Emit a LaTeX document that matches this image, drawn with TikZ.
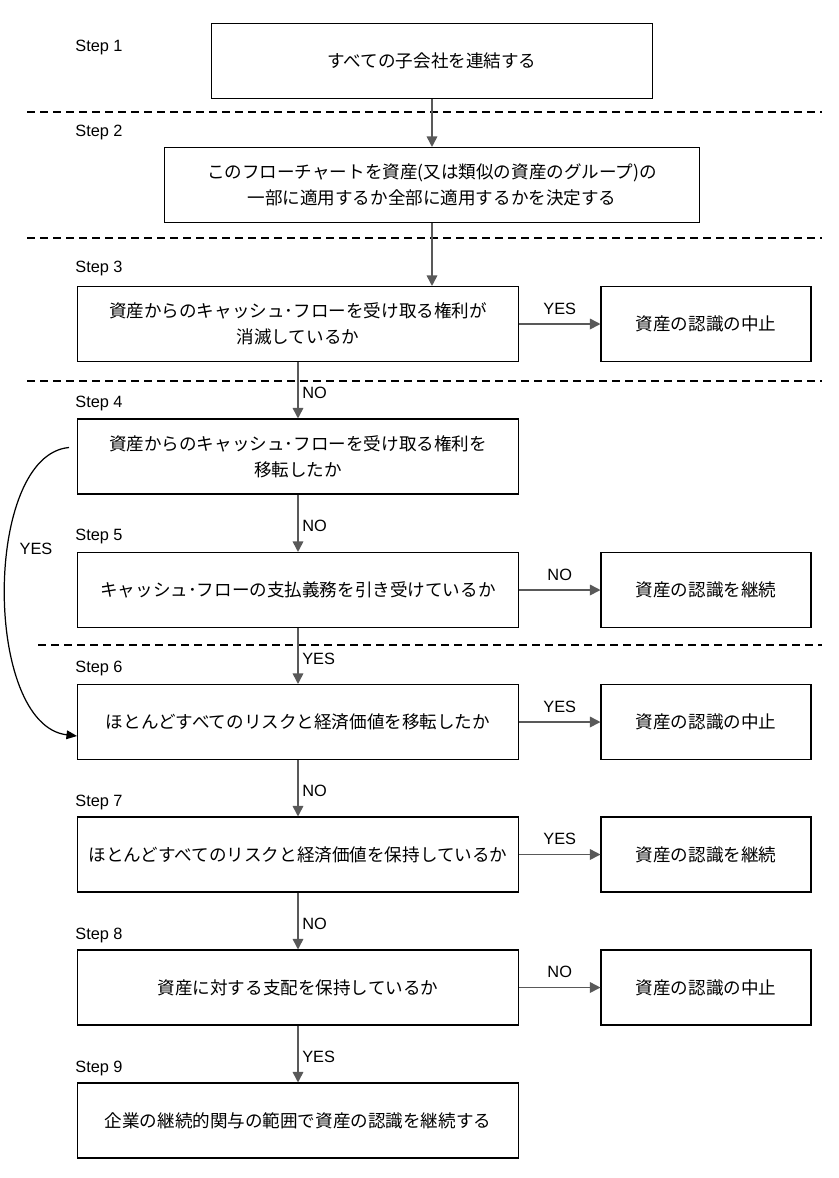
\documentclass[tikz,border=0pt]{standalone}
\usepackage{fontspec}
\setmainfont{Liberation Sans}
\newfontfamily\jp{Noto Sans CJK JP}
\usetikzlibrary{arrows.meta}
\definecolor{arrowgray}{HTML}{595959}
\tikzset{>=stealth}
\tikzset{
  box/.style={draw, line width=0.6pt, minimum width=8.82cm, minimum height=1.5cm,
    align=center, font=\jp\fontsize{10}{14.8}\selectfont},
  sidebox/.style={box, minimum width=4.2cm},
  flow/.style={draw=arrowgray, line width=0.9pt, -{Triangle[length=6pt,width=6pt]}},
  yesarc/.style={draw=black, line width=0.7pt, -{Triangle[length=6pt,width=5pt]}},
  lbl/.style={font=\fontsize{9.3}{11}\selectfont, inner sep=2pt},
  steplbl/.style={anchor=west, font=\fontsize{9.3}{11}\selectfont, inner sep=0pt},
  divider/.style={line width=1pt, dash pattern=on 4.6pt off 2.8pt}
}

\begin{document}
\begin{tikzpicture}[x=0.02cm, y=-0.02cm]
    \useasboundingbox (0,0) rectangle (839,1178);

    % step labels and dividers
    \foreach \n/\y in {1/47,2/132,3/268,4/403,5/536,6/668,7/802,8/935,9/1068}
    \node[steplbl] (step\n) at (75,\y) {Step \n};
    \foreach \y in {112,238,381}
    \draw[divider] (27,\y) -- (822,\y);
    \draw[divider] (38,645) -- (822,645);

    % main column
    \node[box] (s1) at (432,61) {すべての子会社を連結する};
    \node[box, minimum width=10.72cm] (s2) at (432,185)
        {このフローチャートを資産(又は類似の資産のグループ)の\\一部に適用するか全部に適用するかを決定する};
    \node[box] (s3) at (298,324) {資産からのキャッシュ･フローを受け取る権利が\\消滅しているか};
    \node[box] (s4) at (298,456.5) {資産からのキャッシュ･フローを受け取る権利を\\移転したか};
    \node[box] (s5) at (298,590) {キャッシュ･フローの支払義務を引き受けているか};
    \node[box] (s6) at (298,722) {ほとんどすべてのリスクと経済価値を移転したか};
    \node[box] (s7) at (298,854.5) {ほとんどすべてのリスクと経済価値を保持しているか};
    \node[box] (s8) at (298,987.5) {資産に対する支配を保持しているか};
    \node[box] (s9) at (298,1120.5) {企業の継続的関与の範囲で資産の認識を継続する};

    % outcomes
    \node[sidebox] (r3) at (706,324) {資産の認識の中止};
    \node[sidebox] (r5) at (706,590) {資産の認識を継続};
    \node[sidebox] (r6) at (706,722) {資産の認識の中止};
    \node[sidebox] (r7) at (706,854.5) {資産の認識を継続};
    \node[sidebox] (r8) at (706,987.5) {資産の認識の中止};

    % arrows
    \draw[flow] (s1) -- (s2);
    \draw[flow] (s2) -- (s2 |- s3.north);
    \draw[flow] (s3) -- node[lbl, right, pos=0.55] {NO} (s4);
    \draw[flow] (s4) -- node[lbl, right, pos=0.55] {NO} (s5);
    \draw[flow] (s5) -- node[lbl, right, pos=0.55] {YES} (s6);
    \draw[flow] (s6) -- node[lbl, right, pos=0.55] {NO} (s7);
    \draw[flow] (s7) -- node[lbl, right, pos=0.55] {NO} (s8);
    \draw[flow] (s8) -- node[lbl, right, pos=0.55] {YES} (s9);
    \draw[flow] (s3) -- node[lbl, above=3pt] {YES} (r3);
    \draw[flow] (s5) -- node[lbl, above=3pt] {NO} (r5);
    \draw[flow] (s6) -- node[lbl, above=3pt] {YES} (r6);
    \draw[flow] (s7) -- node[lbl, above=3pt] {YES} (r7);
    \draw[flow] (s8) -- node[lbl, above=3pt] {NO} (r8);
    \draw[yesarc] ([shift={(-8,-9)}]s4.west) .. controls (-17,455) and (-17,725) .. ([shift={(0,14)}]s6.west);
    \node[lbl] (yes4) at (36,549) {YES};
\end{tikzpicture}
\end{document}
